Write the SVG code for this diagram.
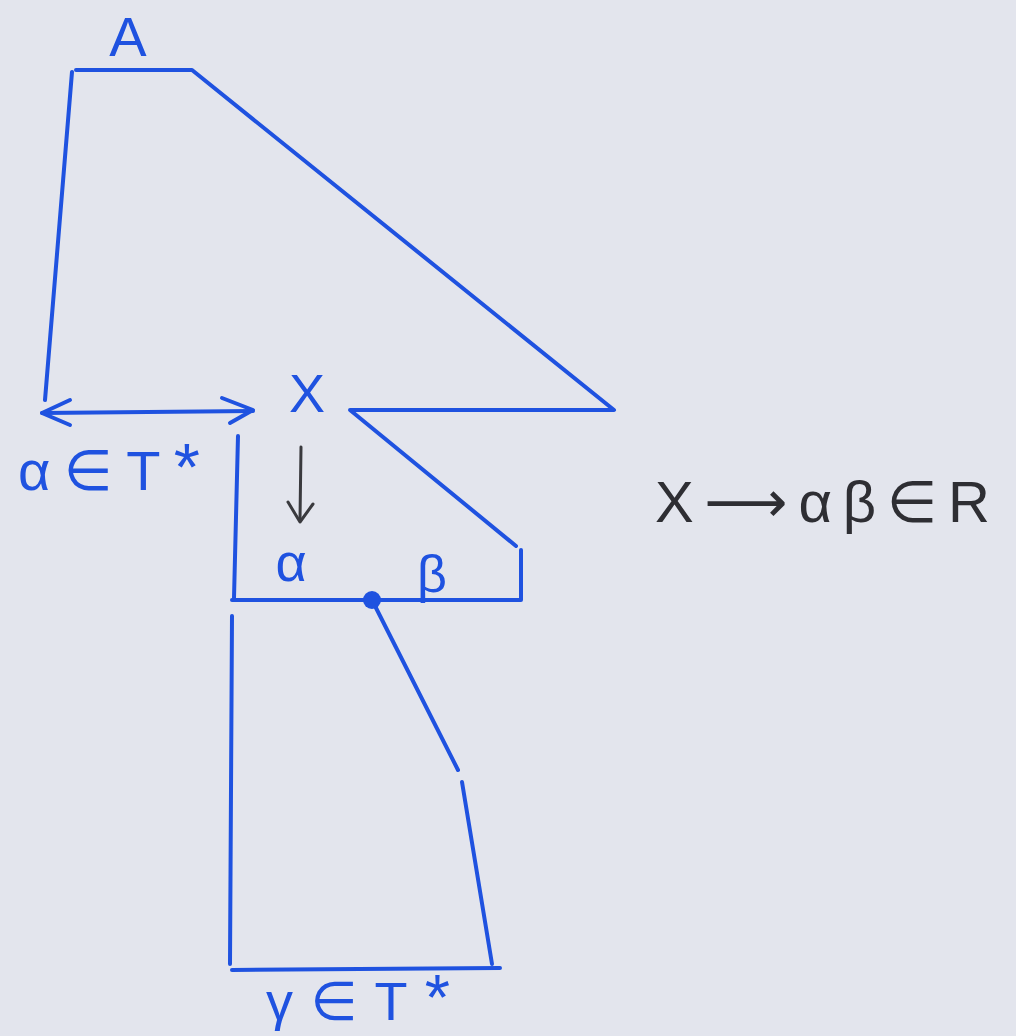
<svg xmlns="http://www.w3.org/2000/svg" width="1016" height="1036" viewBox="0 0 1016 1036">
<style>
.ln{fill:none;stroke:#1f52e0;stroke-width:4;stroke-linecap:round;stroke-linejoin:round}
.bk{fill:none;stroke:#3a3a3e;stroke-width:3;stroke-linecap:round;stroke-linejoin:round}
.bt{font-family:"Liberation Sans","DejaVu Sans",sans-serif;fill:#1f52e0}
.kt{font-family:"Liberation Sans","DejaVu Sans",sans-serif;fill:#2e2e33}
.st{font-size:1.2em}
</style>
<rect x="0" y="0" width="1016" height="1036" fill="#e3e5ed"/>
<g id="connectors">
<path class="ln" d="M72,72 L45,400"/>
<path class="ln" d="M76,70 L192,70 L614,410 L350,410 L516,546"/>
<path class="ln" d="M521,550 L521,600 L232,600"/>
<path class="ln" d="M238,436 L234,598"/>
<path class="ln" d="M232,616 L230,964"/>
<path class="ln" d="M372,600 L458,770"/>
<path class="ln" d="M462,782 L492,964"/>
<path class="ln" d="M232,970 L500,968"/>
<path class="ln" d="M42,413 L253,411"/>
<path class="ln" d="M70,400 L42,413 L70,425"/>
<path class="ln" d="M222,398 L253,410 L230,423"/>
<circle cx="372" cy="600" r="9" fill="#1f52e0"/>
<path class="bk" d="M301,447 L300,520"/>
<path class="bk" d="M288,502 L300,522 L313,504"/>
</g>
<g id="node-A"><text class="bt" x="128" y="56" font-size="56" text-anchor="middle">A</text></g>
<g id="node-X"><text class="bt" x="307" y="412" font-size="54" text-anchor="middle">X</text></g>
<g id="node-alpha"><text class="bt" x="291" y="581" font-size="54" text-anchor="middle">α</text></g>
<g id="node-beta"><text class="bt" x="432" y="592" font-size="52" text-anchor="middle">β</text></g>
<g id="label-alpha-T"><text class="bt" x="18" y="490" font-size="56" textLength="182" lengthAdjust="spacing">α∈T<tspan class="st">*</tspan></text></g>
<g id="label-gamma-T"><text class="bt" x="266" y="1020" font-size="54" textLength="184" lengthAdjust="spacing">γ∈T<tspan class="st">*</tspan></text></g>
<g id="label-rule"><text class="kt" x="655" y="522" font-size="58" textLength="335" lengthAdjust="spacing">X⟶αβ∈R</text></g>
</svg>
